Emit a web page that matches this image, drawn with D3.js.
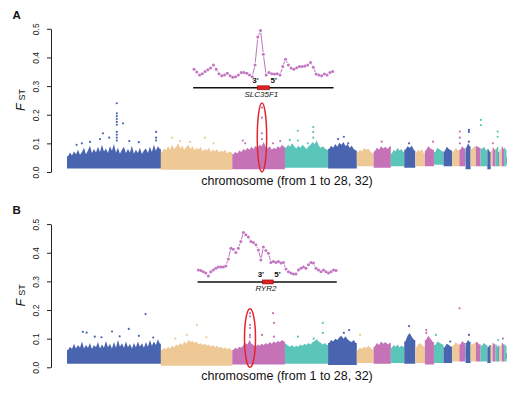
<!DOCTYPE html>
<html><head><meta charset="utf-8">
<script src="https://cdn.jsdelivr.net/npm/d3@7"></script>
<style>body{margin:0;background:#fff}svg{display:block}text{font-family:"Liberation Sans",Arial,sans-serif}</style>
</head><body><svg id="c" width="531" height="393"></svg>
<script>
// ---------------- data ----------------
const chromosomes = ["1","2","3","4","5","6","7","8","9","10","11","12","13","14","15","16","17","18","19","20","21","22","23","24","25","26","27","28","32"];
const chromLengths = [196,149,110,90,60,35,36,28,23,20,19,20,18,15,12,1,10.5,11,10,14,7,4,6,6,2,5,5,5,1]; // Mb
const chromColors = ["#4a65b0","#efc995","#c672b7","#5cc5b9"];
const yTicks = [0,0.1,0.2,0.3,0.4,0.5];
const panelLetters = ["A","B"];
const xLabel = "chromosome (from 1 to 28, 32)";
const geneNames = ["SLC35F1","RYR2"];

// upper edge of the dense Fst band, per chromosome (panel A)
const topsA = [
 [.055,.068,.058,.072,.062,.078,.060,.070,.085,.062,.075,.092,.066,.080,.068,.088,.070,.095,.072,.082,.066,.090,.074,.098,.068,.085,.064,.078,.088,.066,.080,.068,.092,.064,.078,.066,.085,.063,.075,.082,.066,.088,.070,.095,.074,.090,.080],
 [.070,.082,.075,.090,.078,.095,.080,.088,.100,.082,.092,.078,.088,.095,.080,.090,.076,.085,.078,.088,.072,.080,.075,.085,.070,.078,.072,.080,.068,.075,.070,.078,.065,.072,.068],
 [.062,.070,.065,.075,.070,.080,.075,.085,.078,.088,.080,.092,.085,.095,.090,.105,.088,.082,.090,.078,.085,.080,.090,.085,.095,.088],
 [.085,.095,.088,.100,.090,.082,.092,.085,.095,.088,.080,.090,.095,.105,.098,.110,.092,.085,.090,.082,.078],
 [.080,.092,.085,.098,.088,.102,.095,.105,.090,.098,.085,.092,.080,.075],
 [.068,.078,.072,.085,.078,.082,.072,.065],
 [.072,.085,.078,.090,.082,.088,.080,.090],
 [.065,.078,.072,.085,.075,.080,.070],
 [.078,.090,.085,.092,.075],
 [.068,.078,.072,.080,.065],
 [.075,.090,.082,.078],
 [.070,.085,.078,.072],
 [.072,.088,.080,.075],
 [.070,.085,.075],
 [.078,.090,.082],
 [.070],
 [.085,.100,.090],
 [.080,.090],
 [.090,.085],
 [.080,.088,.075],
 [.080,.070],[.075],[.085,.078],[.080,.088],[.070],[.075,.082],[.090,.080],[.085,.078],[.050]
];
const bottomsA = [0.012,0.008,0.01,0.015,0.012,0.02,0.015,0.02,0.015,0.02,0.02,0.025,0.02,0.02,0.02,0.03,0.01,0.02,0.02,0.02,0.01,0.02,0.02,0.02,0.02,0.02,0.02,0.02,0.03];
// isolated high points: [chromosome index, position (Mb), Fst]
const outliersA = [
 [0,104,0.24],[0,104,0.205],[0,104,0.195],[0,104,0.185],[0,104,0.175],[0,104,0.165],[0,104,0.14],[0,104,0.13],[0,104,0.12],[0,104,0.11],
 [0,117,0.17],[0,186,0.14],[0,186,0.12],[0,186,0.11],[0,75,0.135],[0,88,0.12],[0,69,0.115],[0,31,0.1],[0,48,0.105],[0,130,0.108],[0,150,0.104],[0,20,0.095],
 [1,23,0.12],[1,92,0.12],[1,61,0.105],[1,40,0.108],[1,110,0.1],
 [2,62,0.225],[2,62,0.19],[2,62,0.135],[2,62,0.115],[2,22,0.11],[2,27,0.1],[2,85,0.1],[2,100,0.108],
 [3,27,0.144],[3,27,0.11],[3,59,0.157],[3,59,0.14],[3,59,0.12],[3,48,0.1],[3,10,0.112],
 [4,21,0.115],[4,33,0.123],[4,42,0.1],
 [6,17,0.106],[10,17,0.106],[8,10,0.1],
 [14,1,0.141],[14,1,0.12],[14,1,0.1],
 [16,7,0.147],[16,7,0.14],[16,7,0.106],
 [19,0.5,0.182],[19,0.5,0.164],
 [23,4.5,0.141],[23,4.5,0.123],[22,0.5,0.1]
];

const topsB = [
 [.060,.072,.064,.082,.066,.078,.068,.090,.066,.078,.068,.085,.064,.078,.070,.088,.066,.080,.068,.092,.070,.082,.066,.088,.068,.095,.072,.084,.068,.090,.070,.082,.066,.085,.070,.090,.072,.084,.068,.088,.072,.095,.075,.090,.078,.098,.082],
 [.060,.068,.062,.072,.066,.075,.070,.080,.075,.085,.078,.090,.082,.095,.088,.092,.085,.090,.080,.085,.078,.082,.075,.080,.072,.078,.070,.075,.068,.072,.065,.070,.062,.068,.060],
 [.060,.068,.064,.072,.068,.078,.085,.080,.095,.082,.078,.072,.080,.075,.082,.078,.085,.080,.088,.082,.090,.085,.092,.088,.095,.090],
 [.082,.075,.072,.078,.070,.075,.072,.080,.075,.082,.078,.085,.080,.088,.092,.098,.090,.085,.080,.085,.078],
 [.085,.095,.090,.100,.095,.105,.110,.100,.108,.098,.092,.088,.095,.085],
 [.060,.068,.065,.072,.068,.075,.068,.062],
 [.072,.085,.078,.090,.082,.088,.080,.085],
 [.068,.078,.072,.080,.070,.075,.072],
 [.090,.110,.120,.105,.095],
 [.070,.080,.085,.078,.072],
 [.095,.110,.100,.088],
 [.078,.090,.085,.080],
 [.070,.082,.078,.072],
 [.075,.088,.080],
 [.080,.092,.085],
 [.070],
 [.085,.095,.088],
 [.080,.085],
 [.088,.080],
 [.075,.085,.078],
 [.070,.078],[.075],[.085,.080],[.080,.072],[.075],[.070,.078],[.085,.080],[.080,.075],[.050]
];
const bottomsB = [0.012,0.005,0.01,0.012,0.008,0.015,0.012,0.015,0.012,0.015,0.01,0.015,0.015,0.02,0.02,0.03,0.015,0.02,0.02,0.02,0.015,0.02,0.02,0.02,0.02,0.02,0.02,0.02,0.03];
const outliersB = [
 [0,41,0.121],[0,94,0.125],[0,129,0.134],[0,164,0.186],[0,72,0.105],[0,33,0.124],[0,58,0.107],[0,110,0.108],[0,150,0.11],[0,180,0.104],
 [1,75,0.148],[1,54,0.113],[1,30,0.1],[1,95,0.105],
 [2,37,0.189],[2,37,0.178],[2,37,0.148],[2,37,0.137],[2,37,0.113],[2,37,0.105],
 [2,85,0.189],[2,87,0.155],[2,87,0.107],[2,62,0.113],
 [3,79,0.155],[3,79,0.12],[3,27,0.107],[3,60,0.1],
 [4,44,0.13],[4,33,0.12],[5,7,0.113],
 [8,10,0.144],[10,3,0.13],[10,3,0.12],[11,4,0.113],[12,14,0.09],
 [14,0.5,0.206],[16,7,0.113],[23,5.5,0.095],[26,2.5,0.1]
];

// zoomed-in Fst profiles around the candidate genes (window values)
const insetA = [0.359,0.349,0.339,0.343,0.351,0.357,0.363,0.374,0.359,0.343,0.336,0.339,0.345,0.336,0.331,0.333,0.339,0.347,0.347,0.345,0.339,0.333,0.374,0.471,0.494,0.411,0.339,0.347,0.343,0.342,0.343,0.339,0.368,0.394,0.374,0.363,0.359,0.364,0.368,0.368,0.37,0.374,0.382,0.366,0.342,0.339,0.336,0.342,0.339,0.347,0.351];
const insetB = [0.340,0.338,0.334,0.329,0.319,0.334,0.340,0.346,0.350,0.350,0.350,0.354,0.378,0.416,0.412,0.401,0.416,0.439,0.471,0.463,0.455,0.439,0.436,0.428,0.410,0.375,0.420,0.408,0.398,0.366,0.369,0.366,0.369,0.364,0.366,0.343,0.334,0.329,0.326,0.326,0.340,0.346,0.350,0.346,0.358,0.366,0.364,0.346,0.340,0.334,0.340,0.334,0.329,0.334,0.340,0.338];
const geneSpanA = [22.8,27.2];   // in window-index units
const geneSpanB = [25.7,29.9];
const geneLineLevel = [0.294,0.298];
// highlighted loci: [chromosome index, position Mb, low Fst, high Fst]
const highlightA = [2,62,0.0,0.241];
const highlightB = [2,37,0.0,0.204];

// ---------------- drawing ----------------
const svg = d3.select("#c");
const cum = []; let acc = 0;
chromLengths.forEach(l => { cum.push(acc); acc += l; });
const x = d3.scaleLinear().domain([0, acc]).range([67, 507]);
const col = i => chromColors[i % 4];

function panel(off, letter, tops, bottoms, outliers, inset, geneSpan, lineLevel, gene, hl, insetRange, idx) {
  const g = svg.append("g");
  const y = d3.scaleLinear().domain([0, 0.5]).range([172 + off, 28.8 + off]);

  // axis
  const ax = g.append("g").attr("transform", "translate(51,0)")
    .call(d3.axisLeft(y).tickValues(yTicks).tickFormat(d3.format(".1f")).tickSize(4).tickSizeOuter(0));
  ax.select(".domain").attr("stroke", "#222").attr("stroke-width", 1);
  ax.selectAll(".tick line").attr("stroke", "#222");
  ax.selectAll(".tick text").attr("transform", "rotate(-90)").attr("x", 0).attr("y", -12).attr("dy", 0)
    .attr("text-anchor", "middle").attr("font-size", 8.5).attr("fill", "#222").attr("font-family", "Liberation Sans, Arial, sans-serif");

  // y label
  const yl = g.append("text").attr("transform", `translate(25,${100 + off}) rotate(-90)`).attr("text-anchor", "middle").attr("fill", "#111");
  yl.append("tspan").attr("font-style", "italic").attr("font-size", 12.5).text("F");
  yl.append("tspan").attr("font-size", 9).attr("dx", 3).text("ST");

  g.append("text").attr("x", 12.5).attr("y", 19 + off).attr("font-weight", "bold").attr("font-size", 11.5).attr("fill", "#111").text(letter);

  // dense bands
  const area = d3.area().x(d => x(d.p)).y0(d => y(d.b)).y1(d => y(d.v));
  tops.forEach((t, i) => {
    const s = cum[i], L = chromLengths[i], n = t.length;
    const pts = [{p: s, v: t[0], b: bottoms[i]}]
      .concat(t.map((v, j) => ({p: s + L * (j + 0.5) / n, v, b: bottoms[i]})))
      .concat([{p: s + L, v: t[n - 1], b: bottoms[i]}]);
    g.append("path").attr("d", area(pts)).attr("fill", col(i));
  });
  // outliers
  g.selectAll(null).data(outliers).enter().append("circle")
    .attr("cx", d => x(cum[d[0]] + d[1])).attr("cy", d => y(d[2])).attr("r", 1.1)
    .attr("fill", d => col(d[0]));

  // highlight ellipse
  const ey0 = y(hl[3]), ey1 = y(hl[2]);
  g.append("ellipse").attr("cx", x(cum[hl[0]] + hl[1])).attr("cy", (ey0 + ey1) / 2)
    .attr("rx", idx === 0 ? 4.7 : 5.5).attr("ry", (ey1 - ey0) / 2)
    .attr("fill", "none").attr("stroke", "#e3262b").attr("stroke-width", 1.5);

  // x label
  g.append("text").attr("x", 287).attr("y", 184.5 + off).attr("text-anchor", "middle")
    .attr("font-size", 12.5).attr("fill", "#111").text(xLabel);

  // inset
  const xi = d3.scaleLinear().domain([0, inset.length - 1]).range(insetRange);
  const ly = y(lineLevel);
  g.append("line").attr("x1", xi(-0.3)).attr("x2", xi(inset.length - 1 + 0.3)).attr("y1", ly).attr("y2", ly)
    .attr("stroke", "#111").attr("stroke-width", 1.4);
  g.append("rect").attr("x", xi(geneSpan[0])).attr("width", xi(geneSpan[1]) - xi(geneSpan[0]))
    .attr("y", ly - 2).attr("height", 4).attr("fill", "#e41e22").attr("stroke", "#8a1010").attr("stroke-width", 0.6);
  g.append("text").attr("x", xi(geneSpan[0]) - 1.8).attr("y", ly - 4.5).attr("text-anchor", "middle")
    .attr("font-size", 8).attr("font-weight", "bold").attr("fill", "#111").text("3'");
  g.append("text").attr("x", xi(geneSpan[1]) + 4.3).attr("y", ly - 4.5).attr("text-anchor", "middle")
    .attr("font-size", 8).attr("font-weight", "bold").attr("fill", "#111").text("5'");
  g.append("text").attr("x", (xi(geneSpan[0]) + xi(geneSpan[1])) / 2 - 2).attr("y", ly + 9.3).attr("text-anchor", "middle")
    .attr("font-size", 8).attr("font-style", "italic").attr("fill", "#111").text(gene);

  const pc = "#c275c3";
  const gap = 2.3;
  for (let i = 0; i < inset.length - 1; i++) {
    const x1 = xi(i), y1 = y(inset[i]), x2 = xi(i + 1), y2 = y(inset[i + 1]);
    const dx = x2 - x1, dy = y2 - y1, len = Math.hypot(dx, dy);
    if (len > 2 * gap + 0.3) {
      const ux = dx / len, uy = dy / len;
      g.append("line").attr("x1", x1 + ux * gap).attr("y1", y1 + uy * gap)
        .attr("x2", x2 - ux * gap).attr("y2", y2 - uy * gap)
        .attr("stroke", pc).attr("stroke-width", 1);
    }
  }
  g.selectAll(null).data(inset).enter().append("circle")
    .attr("cx", (d, i) => xi(i)).attr("cy", d => y(d)).attr("r", 1.5).attr("fill", pc);
}

panel(0, panelLetters[0], topsA, bottomsA, outliersA, insetA, geneSpanA, geneLineLevel[0], geneNames[0], highlightA, [194, 332.7], 0);
panel(195.3, panelLetters[1], topsB, bottomsB, outliersB, insetB, geneSpanB, geneLineLevel[1], geneNames[1], highlightB, [198.3, 336], 1);
</script></body></html>
